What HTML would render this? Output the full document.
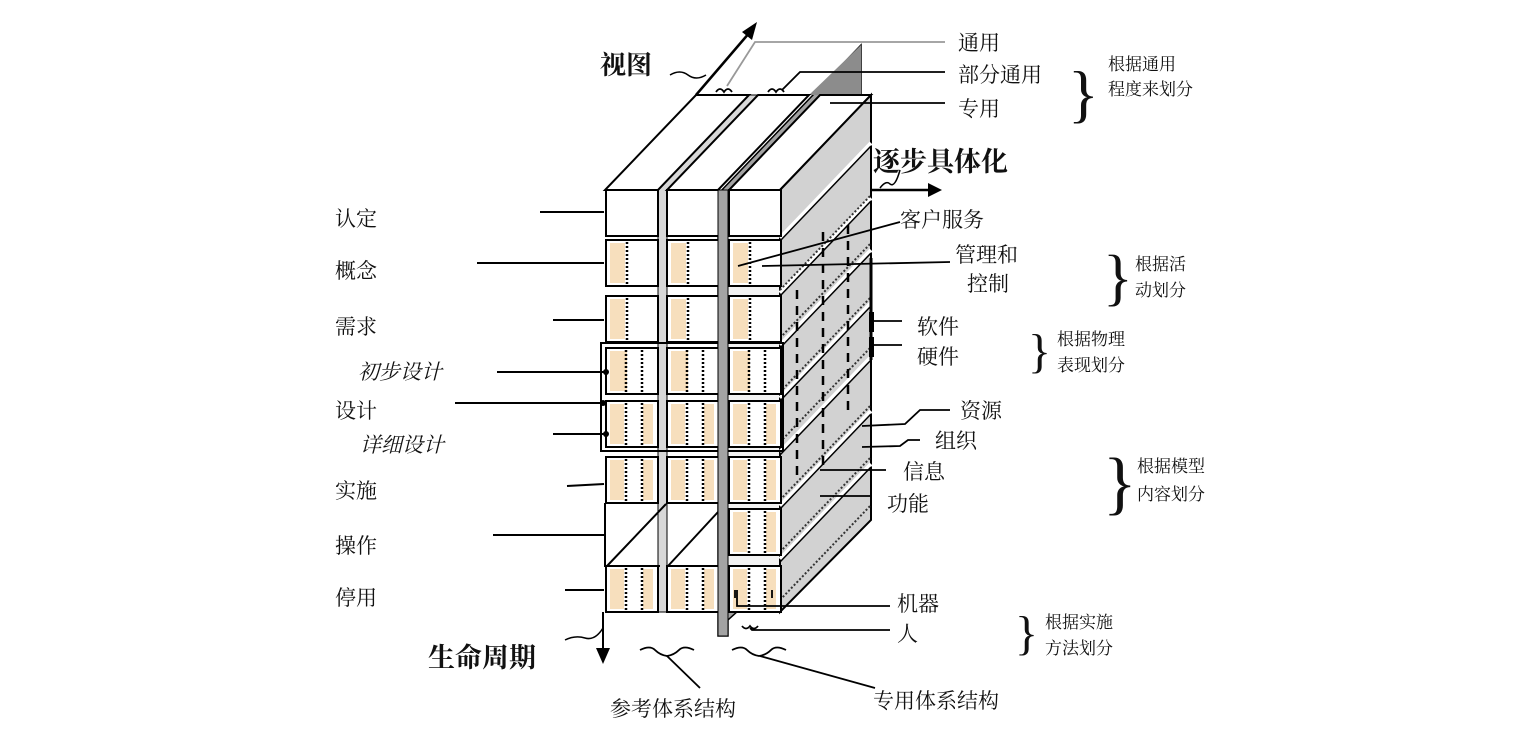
<!DOCTYPE html>
<html><head><meta charset="utf-8"><style>
html,body{margin:0;padding:0;background:#fff;width:1538px;height:732px;overflow:hidden}
svg text{font-family:"Liberation Serif","Noto Serif CJK SC",serif;fill:#111}
</style></head><body>
<svg width="1538" height="732" viewBox="0 0 1538 732" xmlns="http://www.w3.org/2000/svg">
<defs>
<g id="ba"><rect x="0" y="0" width="52" height="46" fill="#fff" stroke="#000" stroke-width="2"/></g>
<g id="bb"><rect x="0" y="0" width="52" height="46" fill="#fff" stroke="#000" stroke-width="2"/><rect x="4" y="3" width="15" height="40" fill="#f7dfbd"/><line x1="21" y1="2" x2="21" y2="44" stroke="#000" stroke-width="2.5" stroke-dasharray="2,2"/></g>
<g id="bc"><rect x="0" y="0" width="52" height="46" fill="#fff" stroke="#000" stroke-width="2"/><rect x="4" y="3" width="17" height="40" fill="#f7dfbd"/><line x1="20" y1="2" x2="20" y2="44" stroke="#000" stroke-width="2.5" stroke-dasharray="2,2"/><line x1="36" y1="2" x2="36" y2="44" stroke="#000" stroke-width="2.5" stroke-dasharray="2,2"/></g>
<g id="bd"><rect x="0" y="0" width="52" height="46" fill="#fff" stroke="#000" stroke-width="2"/><rect x="4" y="3" width="14" height="40" fill="#f7dfbd"/><rect x="37" y="3" width="10" height="40" fill="#f7dfbd"/><line x1="20" y1="2" x2="20" y2="44" stroke="#000" stroke-width="2.5" stroke-dasharray="2,2"/><line x1="36" y1="2" x2="36" y2="44" stroke="#000" stroke-width="2.5" stroke-dasharray="2,2"/></g>
</defs>

<polygon points="718,194 861,45 861,500 728,620 728,636 718,636" fill="#a3a3a3" stroke="#000" stroke-width="1.5"/>
<polygon points="809,95 861,45 861,95" fill="#8c8c8c"/>
<polygon points="658,190 749,95 758,95 667,190 667,612 658,612" fill="#d8d8d8" stroke="#000" stroke-width="1"/>
<polygon points="605,190 658,190 749,95 696,95" fill="#fff" stroke="#000" stroke-width="2"/>
<polygon points="667,190 718,190 809,95 758,95" fill="#fff" stroke="#000" stroke-width="2"/>
<polygon points="729,190 780,190 871,95 820,95" fill="#fff" stroke="#000" stroke-width="2"/>
<rect x="728" y="191" width="53" height="421" fill="#f2f2f2"/>
<polygon points="780,190 871,95 871,520 780,612" fill="#d2d2d2" stroke="#000" stroke-width="2"/>
<g stroke="#fff" stroke-width="4">
<line x1="780" y1="238" x2="871" y2="143"/><line x1="780" y1="293" x2="871" y2="198"/><line x1="780" y1="345" x2="871" y2="250"/><line x1="780" y1="398" x2="871" y2="303"/><line x1="780" y1="452" x2="871" y2="357"/><line x1="780" y1="506" x2="871" y2="411"/><line x1="780" y1="559" x2="871" y2="464"/>
</g>
<g stroke="#000" stroke-width="1.5">
<line x1="780" y1="241" x2="871" y2="146"/><line x1="780" y1="296" x2="871" y2="201"/><line x1="780" y1="348" x2="871" y2="253"/><line x1="780" y1="401" x2="871" y2="306"/><line x1="780" y1="455" x2="871" y2="360"/><line x1="780" y1="509" x2="871" y2="414"/><line x1="780" y1="562" x2="871" y2="467"/>
</g>
<g stroke="#333" stroke-width="2" stroke-dasharray="2,2">
<line x1="780" y1="290" x2="871" y2="195"/><line x1="780" y1="338" x2="871" y2="243"/><line x1="780" y1="392" x2="871" y2="297"/><line x1="780" y1="442" x2="871" y2="347"/><line x1="780" y1="500" x2="871" y2="405"/><line x1="780" y1="552" x2="871" y2="457"/><line x1="780" y1="600" x2="871" y2="505"/>
</g>
<g stroke="#000" stroke-width="2.5" stroke-dasharray="9,7">
<line x1="797" y1="290" x2="797" y2="478"/><line x1="823" y1="232" x2="823" y2="470"/><line x1="848" y1="225" x2="848" y2="412"/>
</g>
<line x1="871" y1="258" x2="871" y2="360" stroke="#000" stroke-width="3"/>
<rect x="869" y="312" width="5" height="20" fill="#000"/><rect x="869" y="337" width="5" height="20" fill="#000"/>

<use href="#ba" x="606" y="190"/><use href="#ba" x="667" y="190"/><use href="#ba" x="729" y="190"/>
<use href="#bb" x="606" y="240"/><use href="#bb" x="667" y="240"/><use href="#bb" x="729" y="240"/>
<use href="#bb" x="606" y="296"/><use href="#bb" x="667" y="296"/><use href="#bb" x="729" y="296"/>
<use href="#bc" x="606" y="348"/><use href="#bc" x="667" y="348"/><use href="#bc" x="729" y="348"/>
<use href="#bd" x="606" y="401"/><use href="#bd" x="667" y="401"/><use href="#bd" x="729" y="401"/>
<use href="#bd" x="606" y="457"/><use href="#bd" x="667" y="457"/><use href="#bd" x="729" y="457"/>
<use href="#bd" x="729" y="509"/>
<use href="#bd" x="606" y="566"/><use href="#bd" x="667" y="566"/><use href="#bd" x="729" y="566"/>
<polyline points="605,503 605,566 660,566" fill="none" stroke="#000" stroke-width="2"/>
<line x1="607" y1="566" x2="666" y2="504" stroke="#000" stroke-width="2"/>
<line x1="668" y1="566" x2="718" y2="512" stroke="#000" stroke-width="2"/>
<line x1="667" y1="566" x2="718" y2="566" stroke="#000" stroke-width="2"/>
<rect x="601" y="343" width="182" height="108" fill="none" stroke="#000" stroke-width="2"/>
<rect x="718" y="190" width="10" height="446" fill="#a3a3a3" stroke="#000" stroke-width="1"/>

<g stroke="#000" stroke-width="2">
<line x1="540" y1="212" x2="604" y2="212"/><line x1="477" y1="263" x2="604" y2="263"/><line x1="553" y1="320" x2="604" y2="320"/>
<line x1="497" y1="372" x2="606" y2="372"/><line x1="455" y1="403" x2="603" y2="403"/><line x1="553" y1="434" x2="606" y2="434"/>
<line x1="567" y1="486" x2="604" y2="484"/><line x1="493" y1="535" x2="604" y2="535"/><line x1="565" y1="590" x2="604" y2="590"/>
<line x1="603" y1="612" x2="603" y2="650"/>
</g>
<circle cx="606" cy="372" r="3" fill="#000"/><circle cx="603" cy="403" r="3" fill="#000"/><circle cx="606" cy="434" r="3" fill="#000"/>
<polygon points="596,648 610,648 603,664" fill="#000"/>
<path d="M565,640 q10,-5 20,-2 q10,3 18,-10" fill="none" stroke="#000" stroke-width="1.5"/>

<line x1="696" y1="95" x2="750" y2="32" stroke="#000" stroke-width="2.5"/>
<polygon points="757,22 742,32 752,40" fill="#000"/>
<path d="M670,75 q10,-6 18,0 q8,6 18,0" fill="none" stroke="#000" stroke-width="1.5"/>
<line x1="870" y1="190" x2="930" y2="190" stroke="#000" stroke-width="2.5"/>
<polygon points="942,190 928,183 928,197" fill="#000"/>
<path d="M880,188 q6,-8 10,-4 q5,4 10,-14" fill="none" stroke="#000" stroke-width="1.5"/>

<g fill="none" stroke-width="1.8">
<polyline points="945,42 755,42 727,86" stroke="#999"/>
<polyline points="945,72 800,72 782,90" stroke="#000"/>
<line x1="830" y1="103" x2="945" y2="103" stroke="#000"/>
<path d="M716,92 q4,-6 8,0 q4,-6 8,0 M768,92 q4,-6 8,0 q4,-6 8,0" stroke="#000"/>
<line x1="738" y1="266" x2="900" y2="222" stroke="#000"/>
<line x1="762" y1="266" x2="950" y2="262" stroke="#000"/>
<line x1="874" y1="321" x2="902" y2="321" stroke="#000"/>
<line x1="874" y1="345" x2="902" y2="345" stroke="#000"/>
<polyline points="862,426 905,424 920,410 950,410" stroke="#000"/>
<polyline points="862,447 900,446 908,440 920,440" stroke="#000"/>
<line x1="820" y1="470" x2="886" y2="470" stroke="#000"/>
<line x1="820" y1="496" x2="872" y2="496" stroke="#000"/>
<polyline points="737,590 737,606 890,606" stroke="#000"/>
<path d="M735,590 v8 M772,590 v8" stroke="#000"/>
<path d="M742,626 q4,5 8,0 q4,5 8,0 M750,628 l2,2 L890,630" stroke="#000"/>
<path d="M640,650 q10,-5 15,0 q5,5 12,6 q7,-1 12,-6 q5,-5 15,0" stroke="#000"/>
<line x1="667" y1="656" x2="700" y2="688" stroke="#000"/>
<path d="M732,650 q10,-5 15,0 q5,5 12,6 q7,-1 12,-6 q5,-5 15,0" stroke="#000"/>
<line x1="760" y1="656" x2="875" y2="688" stroke="#000"/>
</g>

<text x="1068" y="115" font-size="64">}</text>
<text x="1103" y="298" font-size="62">}</text>
<text x="1028" y="367" font-size="48">}</text>
<text x="1103" y="506" font-size="70">}</text>
<text x="1015" y="649" font-size="48">}</text>

<g font-size="21">
<text x="335" y="226">认定</text><text x="335" y="278">概念</text><text x="335" y="334">需求</text>
<text x="358" y="379" font-style="italic">初步设计</text><text x="335" y="418">设计</text>
<text x="360" y="452" font-style="italic">详细设计</text><text x="335" y="498">实施</text>
<text x="335" y="553">操作</text><text x="335" y="605">停用</text>
<text x="958" y="50">通用</text><text x="958" y="82">部分通用</text><text x="958" y="116">专用</text>
<text x="900" y="227">客户服务</text><text x="955" y="262">管理和</text><text x="967" y="291">控制</text>
<text x="917" y="334">软件</text><text x="917" y="364">硬件</text>
<text x="960" y="418">资源</text><text x="935" y="448">组织</text><text x="903" y="479">信息</text><text x="887" y="511">功能</text>
<text x="897" y="611">机器</text><text x="897" y="641">人</text>
<text x="610" y="716">参考体系结构</text><text x="873" y="708">专用体系结构</text>
</g>
<g font-size="17">
<text x="1108" y="70">根据通用</text><text x="1108" y="95">程度来划分</text>
<text x="1135" y="270">根据活</text><text x="1135" y="296">动划分</text>
<text x="1057" y="345">根据物理</text><text x="1057" y="371">表现划分</text>
<text x="1137" y="472">根据模型</text><text x="1137" y="500">内容划分</text>
<text x="1045" y="628">根据实施</text><text x="1045" y="654">方法划分</text>
</g>
<g font-weight="bold">
<text x="600" y="74" font-size="26">视图</text>
<text x="873" y="171" font-size="27">逐步具体化</text>
<text x="428" y="667" font-size="27">生命周期</text>
</g>
</svg>
</body></html>
